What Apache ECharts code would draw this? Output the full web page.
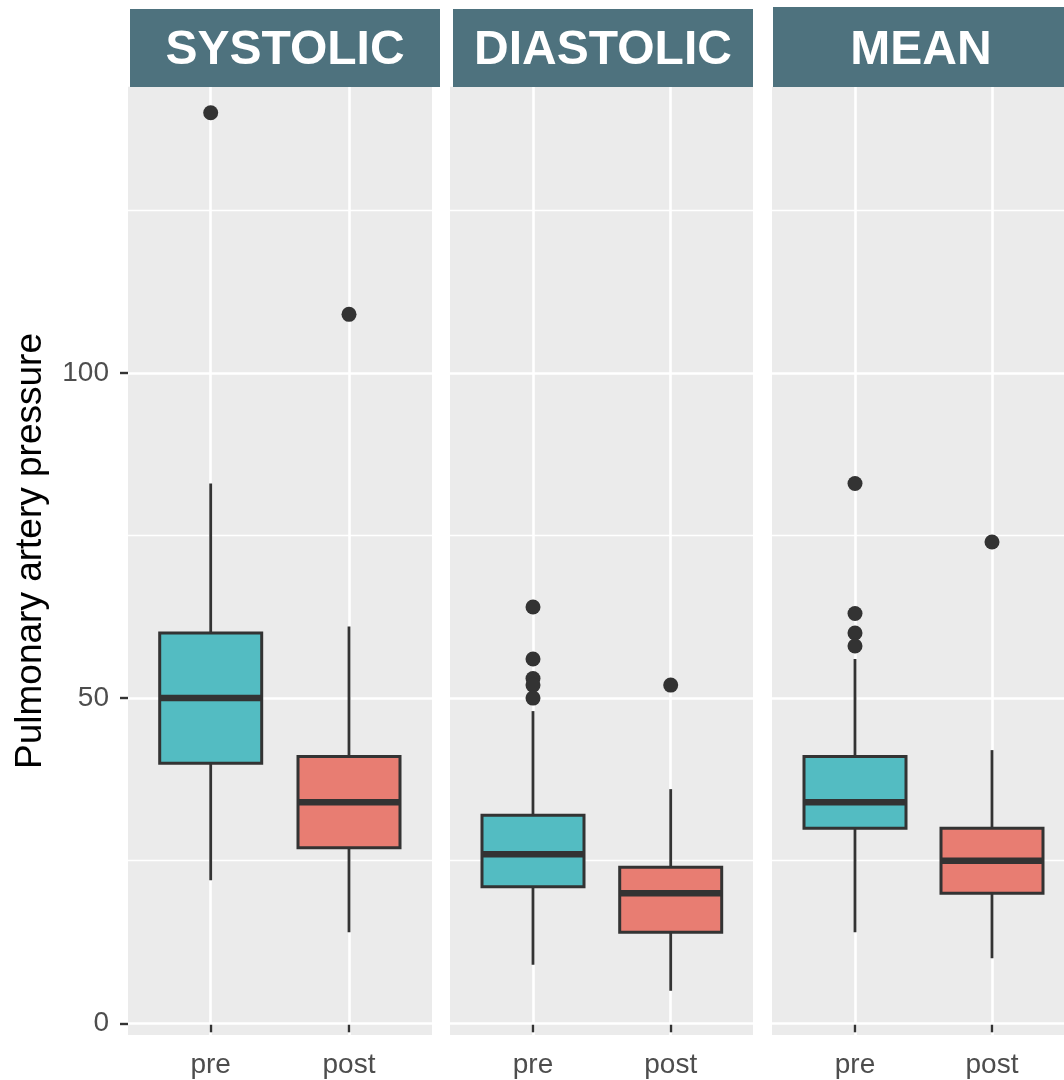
<!DOCTYPE html>
<html><head><meta charset="utf-8">
<script src="https://cdn.jsdelivr.net/npm/echarts@6/dist/echarts.min.js"></script>
<style>html,body{margin:0;padding:0;background:#fff}#c{width:1064px;height:1080px}</style>
</head><body><div id="c"></div>
<script>
// ---------- data ----------
const panelNames = ['SYSTOLIC', 'DIASTOLIC', 'MEAN'];
const groups = ['pre', 'post'];
// each box: [min, Q1, median, Q3, max]
const systolicBoxes = [[22, 40, 50, 60, 83], [14, 27, 34, 41, 61]];
const diastolicBoxes = [[9, 21, 26, 32, 48], [5, 14, 20, 24, 36]];
const meanBoxes = [[14, 30, 34, 41, 56], [10, 20, 25, 30, 42]];
const systolicOutliers = [[140], [109]];
const diastolicOutliers = [[64, 56, 53, 52, 50], [52]];
const meanOutliers = [[83, 63, 60, 58], [74]];
const yTicks = [0, 50, 100];
const yMinorLines = [25, 75, 125];
const yTitle = 'Pulmonary artery pressure';

// ---------- styling / layout ----------
const FONT = 'Liberation Sans, Arial, Helvetica, sans-serif';
const boxFill = ['#53BCC2', '#E87D72'];
const Y_MIN = -1.8, Y_MAX = 144;
const TOP = 86.7, HEIGHT = 948.3;
const BOX_W = 102;
const layout = [
  { bgLeft: 128, bgWidth: 304, coreLeft: 210.7, coreWidth: 138.3, hdr: [130, 9, 310, 78], txt: 285 },
  { bgLeft: 450, bgWidth: 303, coreLeft: 533, coreWidth: 137.7, hdr: [453, 9, 300, 78], txt: 603 },
  { bgLeft: 772, bgWidth: 303, coreLeft: 855, coreWidth: 137, hdr: [773, 7, 300, 80], txt: 921 }
];
const boxesByPanel = [systolicBoxes, diastolicBoxes, meanBoxes];
const outliersByPanel = [systolicOutliers, diastolicOutliers, meanOutliers];

function renderBox(params, api) {
  const x = api.value(0);
  const pMin = api.coord([x, api.value(1)]);
  const pQ1 = api.coord([x, api.value(2)]);
  const pMed = api.coord([x, api.value(3)]);
  const pQ3 = api.coord([x, api.value(4)]);
  const pMax = api.coord([x, api.value(5)]);
  const cx = pMin[0];
  const w = BOX_W;
  return {
    type: 'group',
    children: [
      { type: 'line', shape: { x1: cx, y1: pMax[1], x2: cx, y2: pMin[1] }, style: { stroke: '#333333', lineWidth: 2.8 } },
      { type: 'rect', shape: { x: cx - w / 2, y: pQ3[1], width: w, height: pQ1[1] - pQ3[1] }, style: { fill: boxFill[x], stroke: '#333333', lineWidth: 3 } },
      { type: 'line', shape: { x1: cx - w / 2, y1: pMed[1], x2: cx + w / 2, y2: pMed[1] }, style: { stroke: '#333333', lineWidth: 6.5 } }
    ]
  };
}

const grid = [], xAxis = [], yAxis = [], series = [], graphic = [];
layout.forEach((L, i) => {
  const bg = 2 * i, core = 2 * i + 1;
  grid.push({ left: L.bgLeft, top: TOP, width: L.bgWidth, height: HEIGHT, show: true, backgroundColor: '#EBEBEB', borderWidth: 0 });
  grid.push({ left: L.coreLeft, top: TOP, width: L.coreWidth, height: HEIGHT, show: false });
  xAxis.push({ gridIndex: bg, type: 'value', min: 0, max: 1, show: false });
  yAxis.push({
    gridIndex: bg, type: 'value', min: Y_MIN, max: Y_MAX, show: i === 0,
    axisLine: { show: false }, splitLine: { show: false },
    axisTick: { show: true, customValues: yTicks, length: 8, lineStyle: { color: '#333333', width: 2.4 } },
    axisLabel: { customValues: yTicks, fontSize: 28, color: '#4D4D4D', margin: 19, fontFamily: FONT }
  });
  xAxis.push({
    gridIndex: core, type: 'category', data: groups, boundaryGap: false,
    axisLine: { show: false },
    axisTick: { show: true, interval: 0, length: 9, lineStyle: { color: '#333333', width: 2.4 } },
    axisLabel: { interval: 0, fontSize: 28, color: '#4D4D4D', margin: 16, fontFamily: FONT },
    splitLine: { show: true, interval: 0, lineStyle: { color: '#FFFFFF', width: 2.6 } }
  });
  yAxis.push({ gridIndex: core, type: 'value', min: Y_MIN, max: Y_MAX, show: false });

  series.push({
    type: 'line', xAxisIndex: bg, yAxisIndex: bg, data: [], silent: true,
    markLine: {
      silent: true, symbol: 'none', z: 1, animation: false, label: { show: false },
      data: yTicks.map(v => ({ yAxis: v, lineStyle: { color: '#FFFFFF', width: 2.6, type: 'solid' } }))
        .concat(yMinorLines.map(v => ({ yAxis: v, lineStyle: { color: '#FFFFFF', width: 1.3, type: 'solid' } })))
    }
  });
  series.push({
    type: 'custom', xAxisIndex: core, yAxisIndex: core, clip: false, z: 2,
    renderItem: renderBox,
    encode: { x: 0, y: [1, 2, 3, 4, 5] },
    data: boxesByPanel[i].map((b, j) => [j].concat(b))
  });
  const pts = [];
  outliersByPanel[i].forEach((arr, j) => arr.forEach(v => pts.push([j, v])));
  series.push({
    type: 'scatter', xAxisIndex: core, yAxisIndex: core, clip: false, z: 3,
    symbol: 'circle', symbolSize: 15, itemStyle: { color: '#333333', opacity: 1 },
    data: pts
  });

  graphic.push({
    type: 'rect', shape: { x: L.hdr[0], y: L.hdr[1], width: L.hdr[2], height: L.hdr[3] },
    style: { fill: '#4E727E' }, z: 10
  });
  graphic.push({
    type: 'text', x: L.txt, y: 51, z: 11,
    style: { text: panelNames[i], fill: '#FFFFFF', font: 'bold 48px ' + FONT, textAlign: 'center', textVerticalAlign: 'middle' }
  });
});
graphic.push({
  type: 'text', x: 31, y: 551, rotation: Math.PI / 2, z: 11,
  style: { text: yTitle, fill: '#000000', font: '37px ' + FONT, textAlign: 'center', textVerticalAlign: 'middle' }
});

const chart = echarts.init(document.getElementById('c'), null, { renderer: 'canvas' });
chart.setOption({
  backgroundColor: '#FFFFFF',
  animation: false,
  grid, xAxis, yAxis, series, graphic
});
</script>
</body></html>
